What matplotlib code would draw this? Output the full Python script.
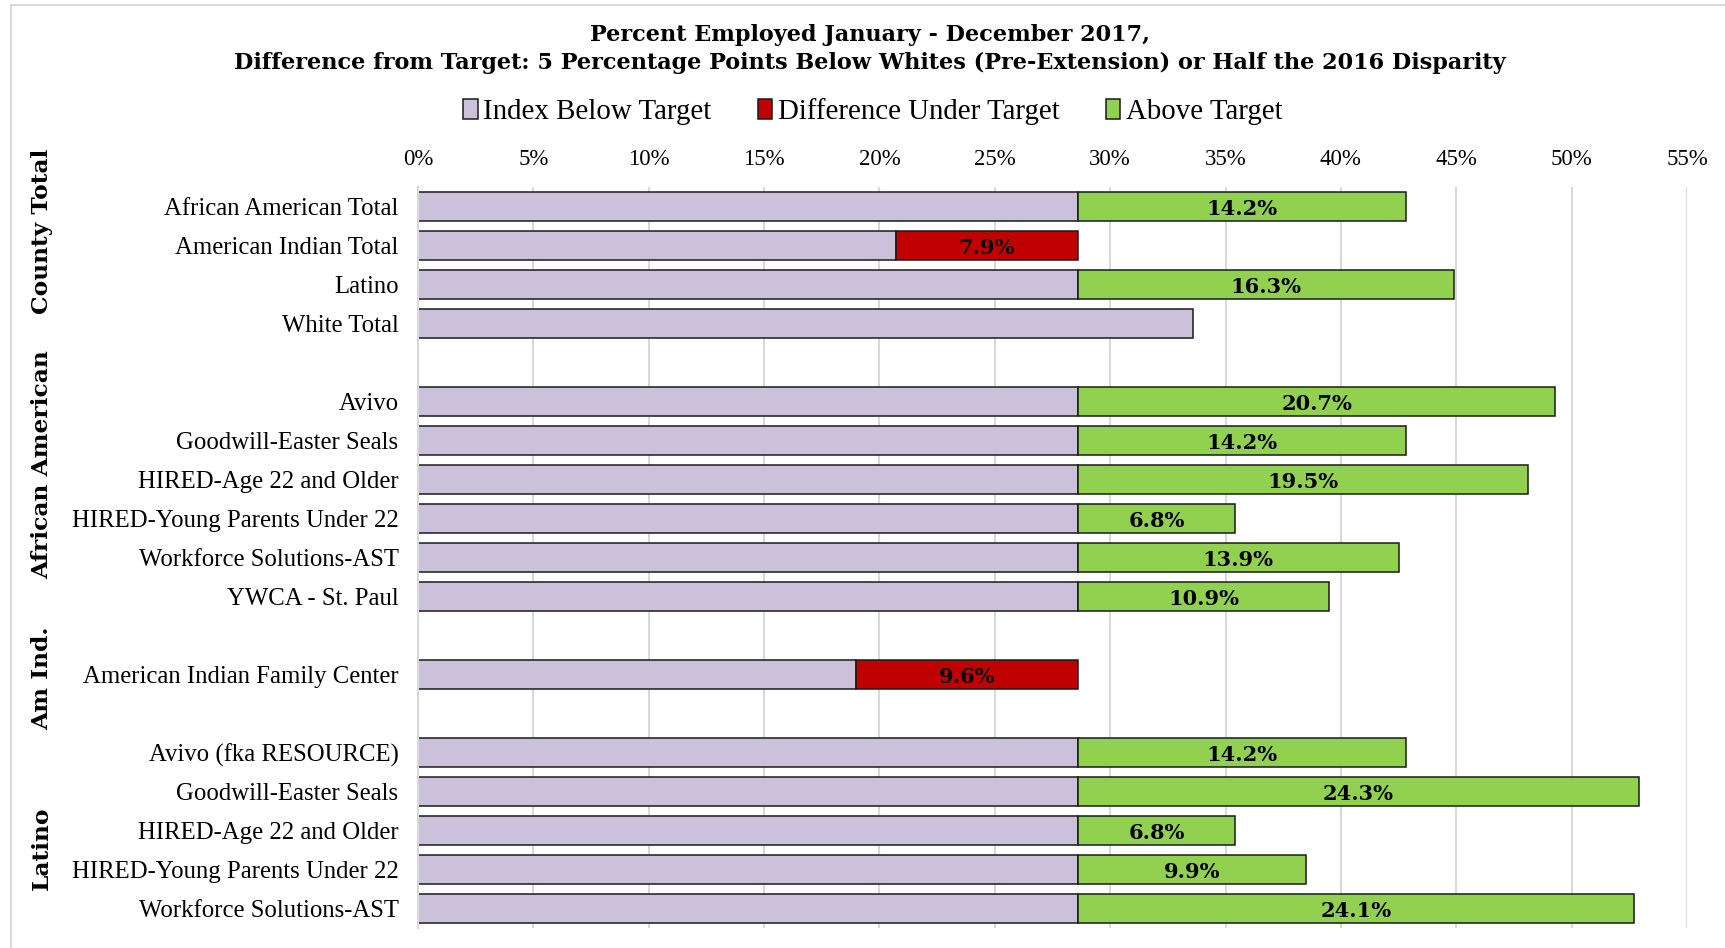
import matplotlib
matplotlib.use("Agg")
import matplotlib.pyplot as plt
from matplotlib.patches import Patch
from matplotlib.lines import Line2D

# Donnees (lignes vides = separation entre groupes)
labels = [
    "African American Total", "American Indian Total", "Latino", "White Total", "",
    "Avivo", "Goodwill-Easter Seals", "HIRED-Age 22 and Older",
    "HIRED-Young Parents Under 22", "Workforce Solutions-AST", "YWCA - St. Paul", "",
    "American Indian Family Center", "",
    "Avivo (fka RESOURCE)", "Goodwill-Easter Seals", "HIRED-Age 22 and Older",
    "HIRED-Young Parents Under 22", "Workforce Solutions-AST",
]
index_below = [28.6, 20.7, 28.6, 33.6, 0,
               28.6, 28.6, 28.6, 28.6, 28.6, 28.6, 0,
               19.0, 0,
               28.6, 28.6, 28.6, 28.6, 28.6]
diff_under = [0, 7.9, 0, 0, 0,
              0, 0, 0, 0, 0, 0, 0,
              9.6, 0,
              0, 0, 0, 0, 0]
above = [14.2, 0, 16.3, 0, 0,
         20.7, 14.2, 19.5, 6.8, 13.9, 10.9, 0,
         0, 0,
         14.2, 24.3, 6.8, 9.9, 24.1]
groups = ["County Total", "African American", "Am Ind.", "Latino"]
group_y = [231, 465, 678, 848]  # pixel centres of group labels

c_purple = "#CCC1DA"
c_red = "#C00000"
c_green = "#92D050"
edge = "#1a1a1a"

W, H = 1725, 948
fig = plt.figure(figsize=(W / 100, H / 100), dpi=100)
ax = fig.add_axes([418 / W, 1 - 928 / H, (1687 - 418) / W, 741 / H])

y = list(range(len(labels)))
h = 0.74
mask = [l != "" for l in labels]
yy = [v for v, m in zip(y, mask) if m]

ax.barh(yy, [v for v, m in zip(index_below, mask) if m], height=h,
        color=c_purple, edgecolor=edge, linewidth=1.1)
for i in y:
    if diff_under[i] > 0:
        ax.barh(i, diff_under[i], left=index_below[i], height=h,
                color=c_red, edgecolor=edge, linewidth=1.1)
        ax.text(index_below[i] + diff_under[i] / 2, i, f"{diff_under[i]:.1f}%",
                ha="center", va="center_baseline", fontsize=15, fontweight="bold",
                family="DejaVu Serif")
    if above[i] > 0:
        ax.barh(i, above[i], left=index_below[i], height=h,
                color=c_green, edgecolor=edge, linewidth=1.1)
        ax.text(index_below[i] + above[i] / 2, i, f"{above[i]:.1f}%",
                ha="center", va="center_baseline", fontsize=15, fontweight="bold",
                family="DejaVu Serif")

ax.set_xlim(0, 55)
ax.set_ylim(len(labels) - 0.5, -0.5)
ax.set_xticks(range(0, 56, 5))
ax.set_xticklabels([f"{t}%" for t in range(0, 56, 5)], family="Liberation Serif",
                   fontsize=16.5)
ax.xaxis.tick_top()
ax.tick_params(axis="x", length=0, pad=12)
ax.set_yticks(y)
ax.set_yticklabels(labels, family="Liberation Serif", fontsize=17.8)
ax.tick_params(axis="y", length=0, pad=14)
ax.grid(axis="x", color="#D9D9D9", linewidth=1.5)
ax.set_axisbelow(True)
for s in ["top", "right", "bottom"]:
    ax.spines[s].set_visible(False)
ax.spines["left"].set_color("#D9D9D9")
ax.spines["left"].set_linewidth(1.5)

# group labels
for g, gy in zip(groups, group_y):
    fig.text(42 / W, 1 - gy / H, g, rotation=90, ha="center", va="center",
             fontsize=16.8, fontweight="bold", family="DejaVu Serif")

fig.text(870 / W, 1 - 35 / H, "Percent Employed January - December 2017,",
         ha="center", va="center", fontsize=16.1, fontweight="bold", family="DejaVu Serif")
fig.text(870 / W, 1 - 63 / H,
         "Difference from Target: 5 Percentage Points Below Whites (Pre-Extension) or Half the 2016 Disparity",
         ha="center", va="center", fontsize=16.1, fontweight="bold", family="DejaVu Serif")

handles = [Patch(facecolor=c, edgecolor=edge, linewidth=1.1) for c in (c_purple, c_red, c_green)]
fig.legend(handles, ["Index Below Target", "Difference Under Target", "Above Target"],
           loc="center", bbox_to_anchor=(873 / W, 1 - 112 / H), ncol=3, frameon=False,
           prop={"family": "Liberation Serif", "size": 20.8}, handlelength=0.5,
           handleheight=0.7, handletextpad=0.2, columnspacing=1.6)

# cadre gris autour du graphique
fig.add_artist(Line2D([11 / W, 11 / W], [0, 1 - 5 / H], color="#D9D9D9", linewidth=1.5))
fig.add_artist(Line2D([11 / W, 1], [1 - 5 / H, 1 - 5 / H], color="#D9D9D9", linewidth=1.5))

fig.savefig("out.png", dpi=100)
